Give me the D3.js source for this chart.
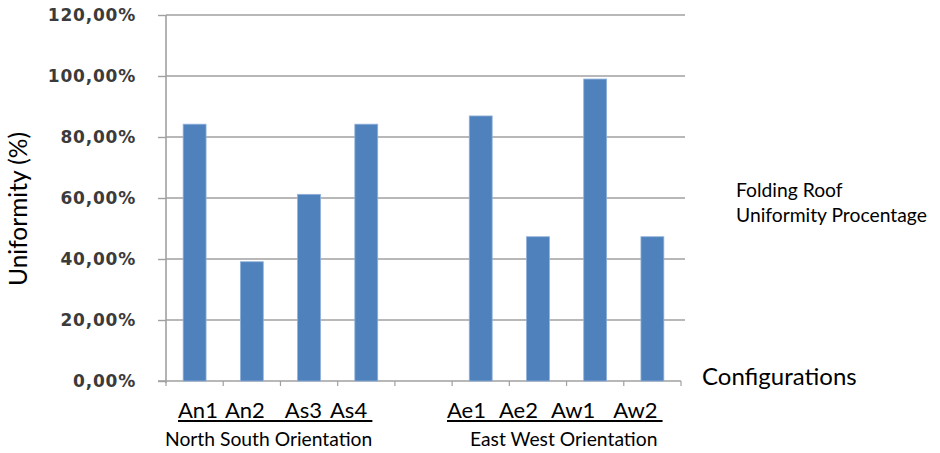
<!DOCTYPE html>
<html>
<head>
<meta charset="utf-8">
<script src="https://cdn.jsdelivr.net/npm/d3@7/dist/d3.min.js"></script>
<style>
  html, body { margin: 0; padding: 0; background: #fff; }
  svg { display: block; }
</style>
</head>
<body>
<svg id="chart" width="940" height="453"></svg>
<script>
// Folding roof uniformity per configuration (fraction of 1)
const categories = ["An1", "An2", "As3", "As4", "", "Ae1", "Ae2", "Aw1", "Aw2"];
const uniformity = [0.842, 0.391, 0.612, 0.842, null, 0.869, 0.473, 0.990, 0.473];
const yTickValues = [0, 0.2, 0.4, 0.6, 0.8, 1.0, 1.2];
const yTickLabels = ["0,00%", "20,00%", "40,00%", "60,00%", "80,00%", "100,00%", "120,00%"];
const groupNames = ["North South Orientation", "East West Orientation"];
const groupMembers = [["An1", "An2", "As3", "As4"], ["Ae1", "Ae2", "Aw1", "Aw2"]];
const groupGaps = [[7, 20, 8], [13, 13, 18]];
const noteLines = ["Folding Roof", "Uniformity Procentage"];

const svg = d3.select("#chart");
const plot = { left: 166, right: 681, top: 15, bottom: 381, gridRight: 685 };
const gridColor = "#a0a0a0";
const bodyFont = "Lato, 'Open Sans', sans-serif";

const x = d3.scaleBand()
  .domain(d3.range(categories.length))
  .range([plot.left, plot.right])
  .padding(0);

const y = d3.scaleLinear()
  .domain([0, 1.2])
  .range([plot.bottom, plot.top]);

// horizontal gridlines
svg.append("g")
  .selectAll("line")
  .data(yTickValues.filter(v => v > 0))
  .join("line")
  .attr("x1", plot.left)
  .attr("x2", plot.gridRight)
  .attr("y1", d => y(d))
  .attr("y2", d => y(d))
  .attr("stroke", gridColor)
  .attr("stroke-width", 1.4);

// y axis
const yAxis = svg.append("g")
  .attr("transform", `translate(${plot.left},0)`)
  .call(d3.axisLeft(y)
    .tickValues(yTickValues)
    .tickSize(8)
    .tickPadding(22)
    .tickFormat((d, i) => yTickLabels[i]));
yAxis.select(".domain")
  .attr("d", `M0,${plot.top}V${plot.bottom + 2}`)
  .attr("stroke", gridColor)
  .attr("stroke-width", 1.6);
yAxis.selectAll(".tick line").attr("stroke", gridColor).attr("stroke-width", 1.4);
yAxis.selectAll(".tick text")
  .attr("fill", "#3b3b3b")
  .style("font-family", "'DejaVu Sans', Verdana, sans-serif")
  .style("font-weight", "bold")
  .style("font-size", "17px")
  .style("letter-spacing", "0.8px");

// x axis with ticks at category boundaries
const xAxis = svg.append("g").attr("transform", `translate(0,${plot.bottom})`);
xAxis.append("line")
  .attr("x1", plot.left - 8)
  .attr("x2", plot.right)
  .attr("stroke", gridColor)
  .attr("stroke-width", 1.6);
xAxis.selectAll("line.tick")
  .data(d3.range(categories.length + 1))
  .join("line")
  .attr("class", "tick")
  .attr("x1", i => plot.left + i * x.step())
  .attr("x2", i => plot.left + i * x.step())
  .attr("y1", 0)
  .attr("y2", 5)
  .attr("stroke", gridColor)
  .attr("stroke-width", 1.2);

// bars
const barW = x.bandwidth() * 0.4;
svg.append("g")
  .selectAll("rect")
  .data(uniformity.map((v, i) => ({ v, i })).filter(d => d.v != null))
  .join("rect")
  .attr("x", d => x(d.i) + (x.bandwidth() - barW) / 2)
  .attr("width", barW)
  .attr("y", d => y(d.v))
  .attr("height", d => y(0) - y(d.v))
  .attr("fill", "#4f81bd")
  .attr("stroke", "#8fb0da")
  .attr("stroke-width", 0.8);

// axis titles
svg.append("text")
  .attr("transform", "translate(27,209) rotate(-90)")
  .attr("text-anchor", "middle")
  .style("font-family", bodyFont)
  .style("font-size", "24.5px")
  .attr("fill", "#000")
  .text("Uniformity (%)");

svg.append("text")
  .attr("x", 702)
  .attr("y", 385)
  .style("font-family", bodyFont)
  .style("font-size", "24px")
  .attr("fill", "#000")
  .text("Configurations");

// side note
svg.append("text")
  .style("font-family", bodyFont)
  .style("font-size", "19.3px")
  .attr("fill", "#000")
  .selectAll("tspan")
  .data(noteLines)
  .join("tspan")
  .attr("x", 736)
  .attr("y", (d, i) => 197 + i * 25)
  .text(d => d);

// grouped configuration labels, underlined, with orientation captions
const groupStart = [178, 447];
groupMembers.forEach((members, g) => {
  const t = svg.append("text")
    .attr("x", groupStart[g])
    .attr("y", 418)
    .style("font-family", bodyFont)
    .style("font-size", "22px")
    .attr("fill", "#000");
  t.selectAll("tspan")
    .data(members)
    .join("tspan")
    .attr("dx", (d, i) => i === 0 ? 0 : groupGaps[g][i - 1])
    .text(d => d);
  const bb = t.node().getBBox();
  svg.append("line")
    .attr("x1", bb.x)
    .attr("x2", bb.x + bb.width + 5)
    .attr("y1", 421)
    .attr("y2", 421)
    .attr("stroke", "#000")
    .attr("stroke-width", 1.8);
});

const captionStart = [165, 470];
svg.append("g")
  .selectAll("text")
  .data(groupNames)
  .join("text")
  .attr("x", (d, i) => captionStart[i])
  .attr("y", 446)
  .style("font-family", bodyFont)
  .style("font-size", "19.3px")
  .attr("fill", "#000")
  .text(d => d);
</script>
</body>
</html>
